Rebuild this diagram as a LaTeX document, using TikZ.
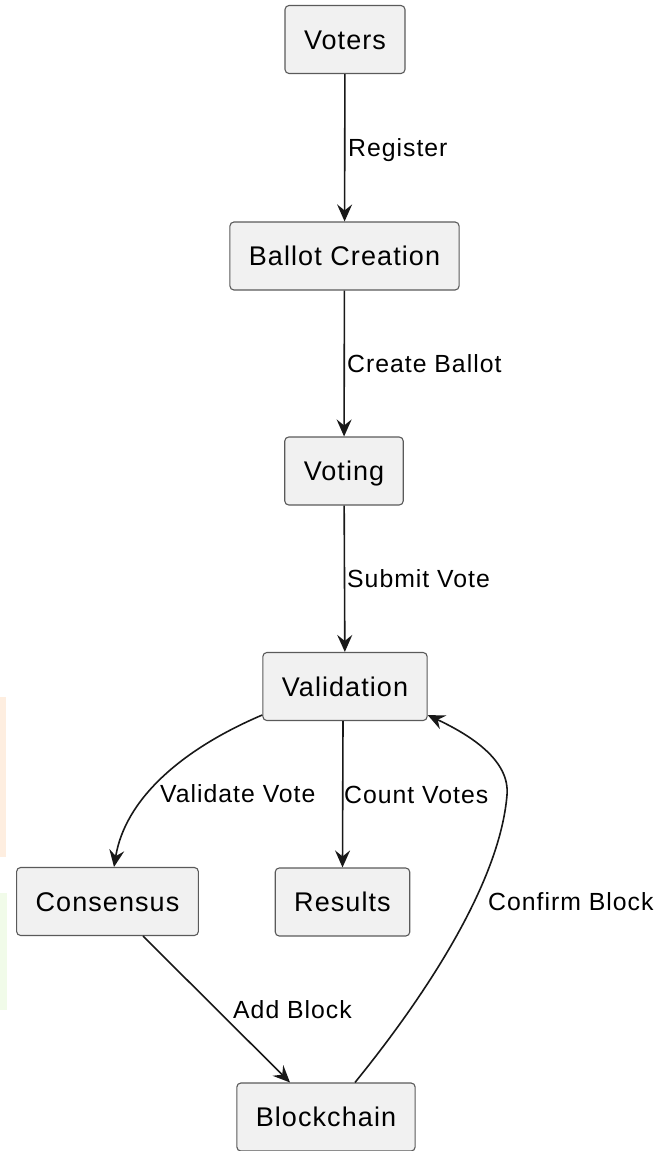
\documentclass[tikz,border=0pt]{standalone}
\usepackage{fontspec}
\setmainfont{Liberation Sans}[LetterSpace=4]
\usetikzlibrary{arrows.meta}
\definecolor{boxfill}{HTML}{F1F1F1}
\definecolor{boxline}{HTML}{5A5A5A}
\definecolor{ink}{HTML}{181818}
\definecolor{bandA}{HTML}{FEEEE0}
\definecolor{bandB}{HTML}{F1FBE9}

\begin{document}
\begin{tikzpicture}[x=1pt,y=-1pt,
	box/.style={draw=boxline,fill=boxfill,line width=1.1pt,rounded corners=4pt,minimum height=68pt,inner xsep=19pt,text height=19.3pt,text depth=0pt,font=\fontsize{27}{31}\selectfont},
	lbl/.style={anchor=base west,inner sep=0pt,font=\fontsize{24.8}{28}\selectfont},
	flow/.style={draw=ink,line width=1.6pt,-{Stealth[length=17pt,width=15pt,inset=6pt]}}]
			\useasboundingbox (0,0) rectangle (671,1151);
			\fill[bandA] (0,697) rectangle (6,857);
			\fill[bandB] (0,893) rectangle (7,1010);
			
			\node[box] (voters) at (345,39.5) {Voters};
			\node[box] (ballot) at (344.5,256) {Ballot Creation};
			\node[box] (voting) at (344,471) {Voting};
			\node[box] (valid) at (345,686.5) {Validation};
			\node[box] (cons) at (107.5,901.5) {Consensus};
			\node[box] (results) at (342.5,902) {Results};
			\node[box] (chain) at (326,1117) {Blockchain};
			
			\draw[flow] (voters) -- (ballot); \node[lbl] (lreg) at (348,156) {Register};
			\draw[flow] (ballot) -- (voting); \node[lbl] (lcreate) at (347,372.5) {Create Ballot};
			\draw[flow] (voting) -- (valid); \node[lbl] (lsubmit) at (347,587.5) {Submit Vote};
			
			\draw[flow] (valid.199) .. controls (180,750) and (125,800) .. ([xshift=6.5pt]cons.north);
			\node[lbl] (lvalid) at (160,802.5) {Validate Vote};
			\draw[flow] ([xshift=-2pt]valid.south) -- (results.north);
			\node[lbl] (lcount) at (344,803) {Count Votes};
			
			\draw[flow] ([xshift=35.5pt]cons.south) -- ([xshift=-36pt]chain.north);
			\node[lbl] (ladd) at (233,1018.5) {Add Block};
			\draw[flow] ([xshift=29pt]chain.north) .. controls (430,990) and (500,880) .. (507,795) .. controls (510,760) and (470,735) .. ([yshift=6pt]valid.south east);
			\node[lbl] (lconfirm) at (488,910) {Confirm Block};
\end{tikzpicture}
\end{document}
